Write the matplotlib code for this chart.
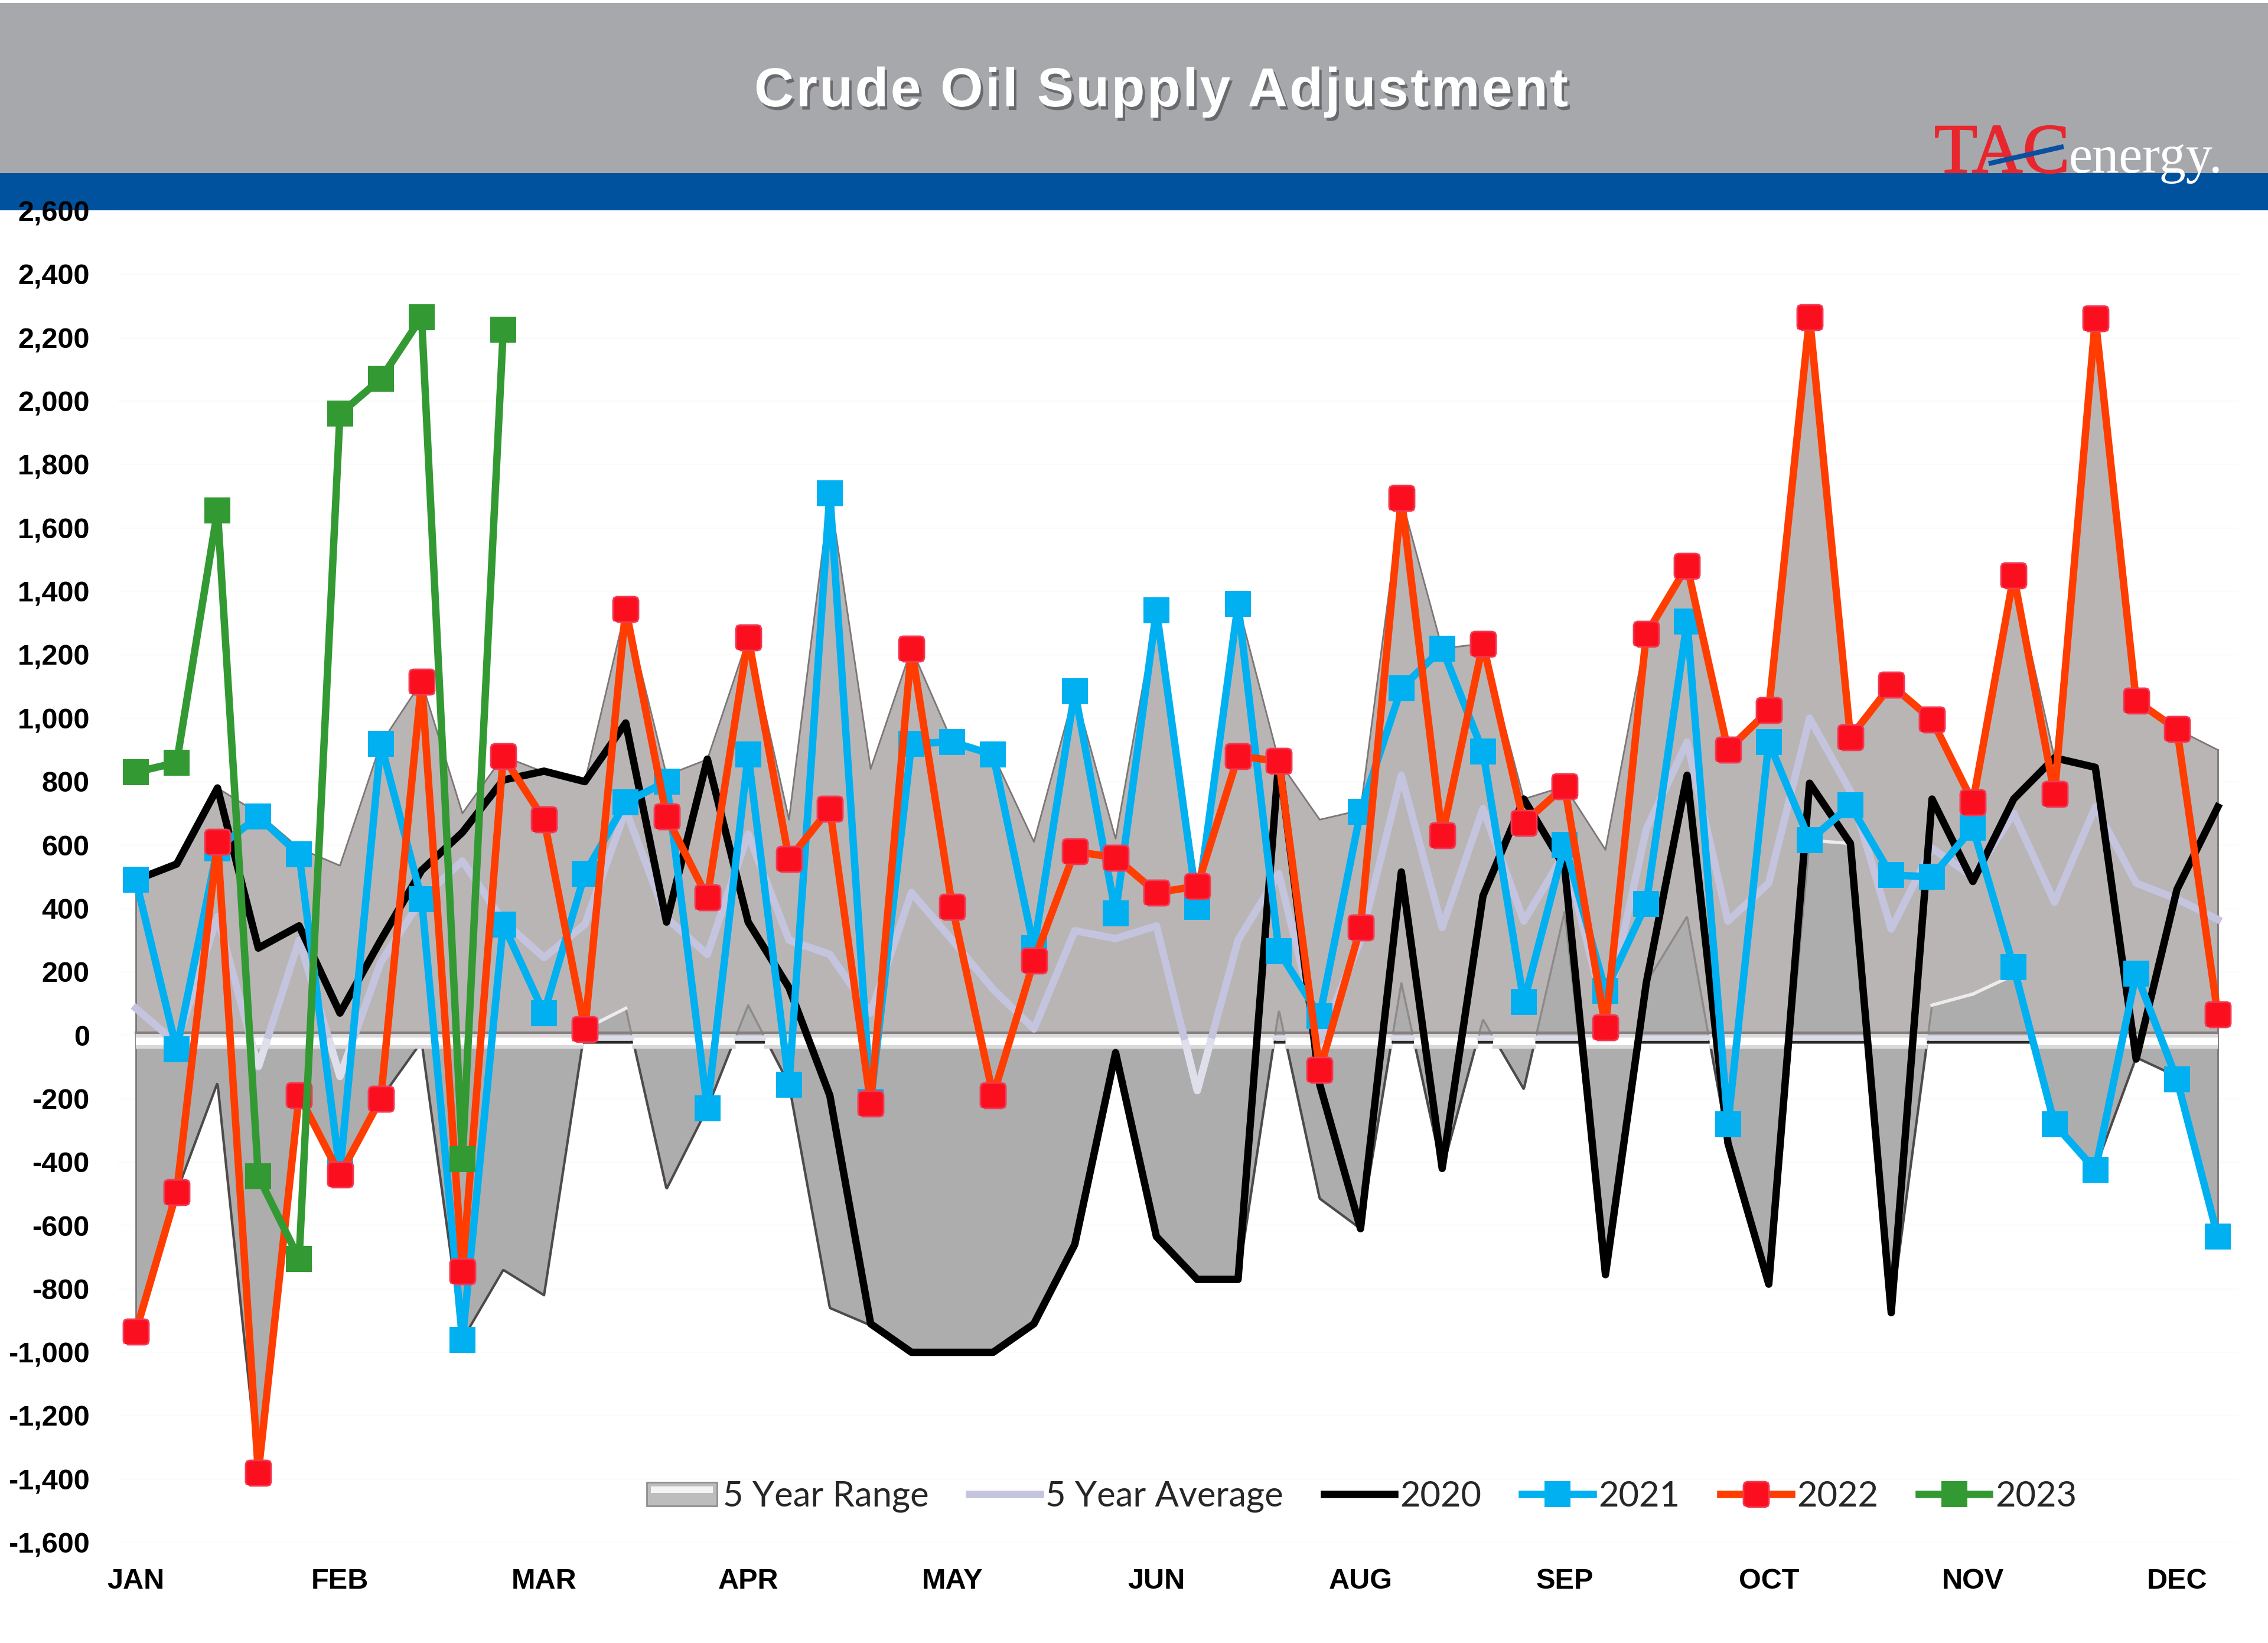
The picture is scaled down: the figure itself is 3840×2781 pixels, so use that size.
# -*- coding: utf-8 -*-

""" Crude Oil Supply Adjustment, weekly values against the 5 year range"""

import numpy as np
from matplotlib import pyplot as plt
from matplotlib import patheffects as pe
from matplotlib.font_manager import FontProperties
from matplotlib.legend_handler import HandlerBase
from matplotlib.lines import Line2D
from matplotlib.patches import Patch, Rectangle

title = 'Crude Oil Supply Adjustment'
month_labels = ['JAN', 'FEB', 'MAR', 'APR', 'MAY', 'JUN', 'AUG', 'SEP', 'OCT', 'NOV', 'DEC']
y_ticks = list(range(-1600, 2601, 200))

range_high = [490, 540, 780, 700, 590, 535, 920, 1115, 700, 880,
              830, 800, 1345, 820, 870, 1255, 680, 1710, 840, 1220,
              925, 885, 610, 1085, 620, 1340, 480, 1360, 865, 680,
              710, 1695, 1220, 1235, 745, 785, 585, 1265, 1480, 900,
              1025, 2265, 940, 1105, 995, 735, 1450, 875, 2260, 1055,
              965, 900]
range_low = [-935, -495, -150, -1380, -190, -440, -200, -20, -960, -740,
             -820, 20, 85, -485, -230, 95, -155, -860, -915, -1000,
             -1000, -1000, -910, -660, -40, -632, -770, -770, 80, -515,
             -610, 165, -425, 50, -170, 390, -755, 165, 375, -340,
             -785, 615, 605, -875, 95, 130, 190, -280, -420, -70,
             -130, -635]
avg_5y = [85, -25, 375, -100, 300, -130, 230, 430, 550, 360,
          245, 350, 710, 370, 255, 635, 300, 255, 70, 450,
          300, 145, 20, 330, 305, 345, -175, 300, 510, -20,
          300, 820, 340, 715, 360, 575, 60, 650, 925, 360,
          480, 1000, 770, 335, 590, 500, 700, 420, 720, 480,
          430, 365]
y2020 = [490, 540, 780, 275, 345, 70, 300, 520, 640, 805,
         833, 800, 985, 357, 871, 357, 150, -190, -910, -1000,
         -1000, -1000, -910, -660, -55, -635, -770, -770, 870, -155,
         -610, 515, -420, 440, 745, 530, -755, 165, 820, -340,
         -785, 795, 605, -875, 745, 485, 745, 875, 845, -75,
         460, 720]
y2021 = [490, -45, 590, 690, 570, -430, 920, 430, -960, 350,
         70, 510, 735, 800, -230, 885, -155, 1710, -210, 920,
         925, 885, 275, 1085, 385, 1340, 405, 1360, 265, 60,
         705, 1095, 1220, 895, 105, 600, 140, 415, 1305, -280,
         925, 615, 725, 505, 500, 655, 215, -280, -425, 195,
         -140, -635]
y2022 = [-935, -495, 610, -1380, -190, -440, -200, 1115, -745, 880,
         680, 20, 1345, 690, 435, 1255, 555, 715, -215, 1220,
         405, -190, 235, 580, 560, 450, 470, 880, 865, -110,
         340, 1695, 630, 1235, 670, 785, 25, 1265, 1480, 900,
         1025, 2265, 940, 1105, 995, 735, 1450, 760, 2260, 1055,
         965, 65]
y2023 = [830, 860, 1655, -445, -705, 1960, 2070, 2265, -390, 2225]

# reference size in pixels, everything placed by hand uses these
W = 3840
H = 2781
x_first = 230
x_last = 3755
y_top = 357
y_bot = 2611
dx = (x_last - x_first) / 51.0
xmin = -0.45
xmax = 51.5

plt.rcParams['font.family'] = ['Liberation Sans', 'DejaVu Sans']

RED_MARK = [(-0.7, -1), (0.7, -1), (0.92, -0.92), (1, -0.7), (1, 0.7), (0.92, 0.92),
            (0.7, 1), (-0.7, 1), (-0.92, 0.92), (-1, 0.7), (-1, -0.7), (-0.92, -0.92)]


def fx(px):
    return px / float(W)


def fy(py):
    return 1.0 - py / float(H)


class RangeHandler(HandlerBase):
    """ gray box with a white bevel on top, as in the legend of the sheet"""

    def create_artists(self, legend, orig, xd, yd, width, height, fontsize, trans):
        box = Rectangle((-xd, -yd), width, height, facecolor='#bdbdbd',
                        edgecolor='#8f8f8f', lw=2, transform=trans)
        top = Rectangle((-xd + width * 0.06, -yd + height * 0.55), width * 0.88, height * 0.28,
                        facecolor='#f4f4f4', edgecolor='none', transform=trans)
        return [box, top]


fig = plt.figure(figsize=(W / 100.0, H / 100.0), dpi=100, facecolor='white')

# header bands
fig.add_artist(Rectangle((0, fy(293)), 1, fy(5) - fy(293), transform=fig.transFigure,
                         facecolor='#a7a8ac', edgecolor='none', zorder=-2))
fig.add_artist(Rectangle((0, fy(356)), 1, fy(293) - fy(356), transform=fig.transFigure,
                         facecolor='#00529f', edgecolor='none', zorder=-2))

left = x_first + xmin * dx
right = x_first + xmax * dx
ax = fig.add_axes([fx(left), fy(y_bot), fx(right - left), fy(y_top) - fy(y_bot)])
ax.patch.set_alpha(0)

x = np.arange(52)
high = np.array(range_high, dtype=float)
low = np.array(range_low, dtype=float)

# 5 year range is two overlapped areas, as the sheet builds it
ax.fill_between(x, 0, high, color='#b9b5b5', lw=0, zorder=1)
ax.fill_between(x, 0, low, color='#adadad', lw=0, zorder=2)
ax.plot(x, high, color='#7d7676', lw=2, zorder=2)

fine = np.linspace(0, 51, 3000)
low_fine = np.interp(fine, x, low)
ax.plot(fine, np.where(low_fine > 0, np.nan, low_fine), color='#4f4a4a', lw=3, zorder=3)
ax.plot(fine, np.where(low_fine > 0, low_fine, np.nan), color='#8f8a8a', lw=2.5, zorder=3)
# the bevel only shows white where the lower edge stays above zero between two weeks
for i in range(51):
    if low[i] > 0 and low[i + 1] > 0 and i != 37:
        ax.plot(x[i:i + 2], low[i:i + 2], color='#ececec', lw=4, zorder=3)
ax.plot([0, 0], [low[0], high[0]], color='#7d7676', lw=2, zorder=3)
ax.plot([51, 51], [low[-1], high[-1]], color='#7d7676', lw=2, zorder=3)

# light band at the zero line
ax.plot([0, 51], [9, 9], color='#857f7f', lw=3, zorder=3)
band = np.where(low_fine > 0, np.nan, -19.0)
ax.plot(fine, band, color='#d9d9d9', lw=18, zorder=3, solid_capstyle='butt')
ax.plot(fine, band, color='#ffffff', lw=9, zorder=3, solid_capstyle='butt')
ax.plot(fine, np.where(low_fine > 0, -8.0, np.nan), color='#dcdce8', lw=6, zorder=3)
ax.plot(fine, np.where(low_fine > 0, -22.0, np.nan), color='#2a2a2a', lw=3.5, zorder=3)

line_w = 9
avg_fine = np.interp(fine, x, avg_5y)
ax.plot(x, avg_5y, color='#c4c4df', lw=line_w, zorder=4)
ax.plot(fine, np.where(avg_fine < -19, avg_fine, np.nan), color='#dfdfec', lw=line_w, zorder=4)
ax.plot(x, y2020, color='black', lw=line_w, zorder=5)
ax.plot(x, y2021, color='#00b0f0', lw=line_w, marker='s', ms=32, mew=0, zorder=6)
ax.plot(x, y2022, color='#ff3d00', lw=line_w, marker=RED_MARK, ms=31, mfc='#fb0f1e',
        mec='#f23a55', mew=2, zorder=7)
ax.plot(x[:len(y2023)], y2023, color='#339933', lw=line_w, marker='s', ms=32, mew=0, zorder=8)

ax.set_xlim(xmin, xmax)
ax.set_ylim(y_ticks[0], y_ticks[-1])
ax.set_xticks(x[::5])
ax.set_xticklabels(month_labels, fontsize=35, fontweight='bold')
ax.set_yticks(y_ticks)
ax.set_yticklabels(['{0:,}'.format(v) for v in y_ticks], fontsize=35, fontweight='bold')
ax.tick_params(axis='both', length=0)
ax.tick_params(axis='x', pad=31)
ax.tick_params(axis='y', pad=34)
ax.grid(axis='y', color='#fbfbfb', lw=1.5)
ax.set_axisbelow(True)
for spine in ax.spines.values():
    spine.set_visible(False)

handles = [Patch(label='5 Year Range'),
           Line2D([], [], color='#c4c4df', lw=line_w, label='5 Year Average'),
           Line2D([], [], color='black', lw=line_w, label='2020'),
           Line2D([], [], color='#00b0f0', lw=line_w, marker='s', ms=32, mew=0, label='2021'),
           Line2D([], [], color='#ff3d00', lw=line_w, marker=RED_MARK, ms=31, mfc='#fb0f1e',
                  mec='#f23a55', mew=2, label='2022'),
           Line2D([], [], color='#339933', lw=line_w, marker='s', ms=32, mew=0, label='2023')]
leg = ax.legend(handles=handles, ncol=6, loc='center left', frameon=False,
                bbox_to_anchor=(fx(1095), fy(2533)), bbox_transform=fig.transFigure,
                prop={'family': 'Lato', 'size': 43}, labelcolor='#262626',
                handlelength=2.0, handleheight=0.65, handletextpad=0.16, columnspacing=1.15,
                borderpad=0, borderaxespad=0, numpoints=1,
                handler_map={Patch: RangeHandler()})
leg.set_zorder(20)

# title, the letters stand a bit apart in the reference so they go one by one
renderer = fig.canvas.get_renderer()
title_font = FontProperties(family='Liberation Sans', weight='bold', size=67)
shadow = [pe.withSimplePatchShadow(offset=(3, -4), shadow_rgbFace='#4f5054', alpha=0.7)]


def ink_width(s):
    return renderer.get_text_width_height_descent(s, title_font, False)[0]


natural = ink_width(title)
extra = (1378 - natural) / (len(title) - 1)
for i, ch in enumerate(title):
    if ch == ' ':
        continue
    pos = 1277 + ink_width(title[:i + 1]) - ink_width(ch) + i * extra
    fig.text(fx(pos), fy(180), ch, color='white', fontproperties=title_font,
             ha='left', va='baseline', zorder=5, path_effects=shadow)

# logo
fig.text(fx(3275), fy(292), 'TAC', color='#e8262d', fontsize=86, family='Liberation Serif',
         ha='left', va='baseline', zorder=5,
         path_effects=[pe.withStroke(linewidth=1.5, foreground='#e8262d')])
fig.text(fx(3503), fy(292), 'energy.', color='white', fontsize=65, family='Liberation Serif',
         ha='left', va='baseline', zorder=5)
fig.add_artist(Line2D([fx(3367), fx(3494)], [fy(277), fy(248)], color='#0a4fa0', lw=6,
                      solid_capstyle='butt', zorder=6))

plt.savefig('out.png', dpi=100)
plt.close('all')
